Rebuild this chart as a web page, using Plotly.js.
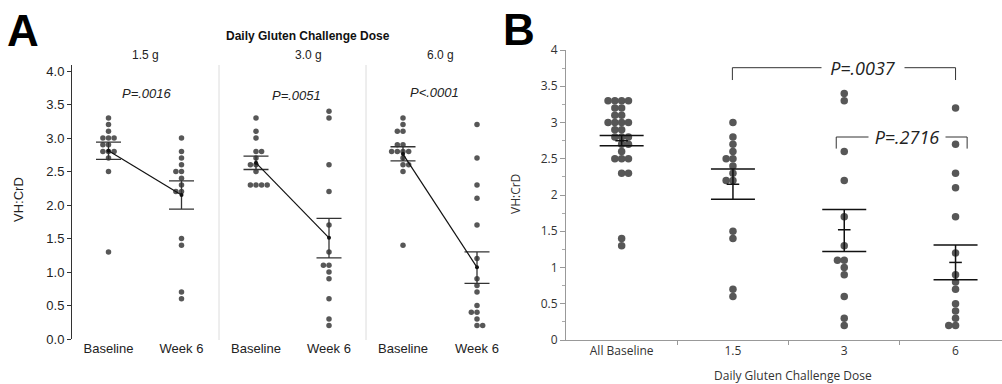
<!DOCTYPE html>
<html><head><meta charset="utf-8">
<script src="https://cdn.plot.ly/plotly-3.0.1.min.js"></script>
<style>html,body{margin:0;padding:0;background:#fff}</style>
</head><body><div id="chart" style="width:1002px;height:384px"></div>
<script>
// ---------- Panel A data ----------
const doseLabelsA = ['1.5 g', '3.0 g', '6.0 g'];
const pValuesA = ['P=.0016', 'P=.0051', 'P<.0001'];
const timeLabels = ['Baseline', 'Week 6'];
const baseline15 = [3.3, 3.2, 3.1, 3.0, 3.0, 3.0, 2.9, 2.9, 2.8, 2.8, 2.8, 2.7, 2.5, 1.3];
const week6_15   = [3.0, 2.8, 2.7, 2.6, 2.5, 2.5, 2.4, 2.3, 2.2, 2.2, 1.5, 1.4, 0.7, 0.6];
const baseline30 = [3.3, 3.1, 3.0, 2.8, 2.8, 2.7, 2.6, 2.6, 2.5, 2.3, 2.3, 2.3, 2.3];
const week6_30   = [3.4, 3.3, 2.6, 2.2, 1.7, 1.3, 1.1, 1.1, 1.0, 0.9, 0.6, 0.3, 0.2];
const baseline60 = [3.3, 3.2, 3.1, 3.1, 2.9, 2.9, 2.8, 2.8, 2.8, 2.8, 2.7, 2.6, 2.6, 2.5, 1.4];
const week6_60   = [3.2, 2.7, 2.3, 2.1, 1.7, 1.2, 0.9, 0.8, 0.7, 0.5, 0.4, 0.4, 0.3, 0.2, 0.2];
const meanBaseA  = [2.81, 2.63, 2.76];
const semHiBaseA = [2.94, 2.73, 2.87];
const semLoBaseA = [2.68, 2.53, 2.66];
const meanWk6A   = [2.15, 1.51, 1.07];
const semHiWk6A  = [2.36, 1.80, 1.30];
const semLoWk6A  = [1.94, 1.21, 0.83];
const yTicksA = [0, 0.5, 1, 1.5, 2, 2.5, 3, 3.5, 4];

// ---------- Panel B data ----------
const groupLabelsB = ['All Baseline', '1.5', '3', '6'];
const allBaseline = [3.3, 3.3, 3.3, 3.3, 3.2, 3.2, 3.1, 3.1, 3.0, 3.0, 3.0, 3.0, 2.9, 2.9, 2.8, 2.8, 2.8, 2.7, 2.7, 2.6, 2.5, 2.5, 2.5, 2.3, 2.3, 1.4, 1.3];
const dose15 = [3.0, 2.8, 2.7, 2.6, 2.5, 2.5, 2.4, 2.3, 2.2, 2.2, 1.5, 1.4, 0.7, 0.6];
const dose30 = [3.4, 3.3, 2.6, 2.2, 1.7, 1.3, 1.1, 1.1, 1.0, 0.9, 0.6, 0.3, 0.2];
const dose60 = [3.2, 2.7, 2.3, 2.1, 1.7, 1.2, 0.9, 0.8, 0.7, 0.5, 0.4, 0.3, 0.2, 0.2];
const meanB  = [2.75, 2.15, 1.52, 1.07];
const semHiB = [2.82, 2.36, 1.80, 1.31];
const semLoB = [2.68, 1.94, 1.22, 0.83];
const comparisonsB = [
  {from: 1, to: 3, label: 'P=.0037'},
  {from: 2, to: 3, label: 'P=.2716'}
];

// ---------- helpers ----------
const W = 1002, H = 384;
const px = v => v / W;
const py = v => 1 - v / H;

function swarm(vals, dPx, pxPerX, pxPerY) {
  const placed = [];
  const out = new Array(vals.length);
  const order = vals.map((v, i) => i).sort((a, b) => vals[b] - vals[a]);
  let flip = 1;
  for (const i of order) {
    const y = vals[i] * pxPerY;
    const iv = [];
    for (const p of placed) {
      const dy = Math.abs(p.y - y);
      if (dy < dPx) { const w = Math.sqrt(dPx * dPx - dy * dy); iv.push([p.x - w, p.x + w]); }
    }
    const cands = [0];
    iv.forEach(a => cands.push(a[0], a[1]));
    cands.sort((a, b) => (Math.abs(a) - Math.abs(b)) || (flip * (b - a)));
    let x = 0;
    for (const c of cands) {
      if (iv.every(a => c <= a[0] + 1e-9 || c >= a[1] - 1e-9)) { x = c; break; }
    }
    flip = -flip;
    placed.push({x, y});
    out[i] = x / pxPerX;
  }
  return out;
}

const traces = [];
const groupsA = [[baseline15, week6_15], [baseline30, week6_30], [baseline60, week6_60]];
const xNames = ['x', 'x2', 'x3'];
const dotColor = '#575757';

groupsA.forEach((g, k) => {
  g.forEach((vals, j) => {
    const off = swarm(vals, 5.6, 73, 67);
    traces.push({
      type: 'scatter', mode: 'markers', xaxis: xNames[k], yaxis: 'y',
      x: vals.map((v, i) => j + off[i]), y: vals,
      marker: {size: 5.5, color: dotColor}, hoverinfo: 'y'
    });
  });
  traces.push({
    type: 'scatter', mode: 'lines+markers', xaxis: xNames[k], yaxis: 'y',
    x: [0, 1], y: [meanBaseA[k], meanWk6A[k]],
    line: {color: '#111', width: 1.2},
    marker: {size: 4, color: '#111'},
    error_y: {
      type: 'data', symmetric: false,
      array: [semHiBaseA[k] - meanBaseA[k], semHiWk6A[k] - meanWk6A[k]],
      arrayminus: [meanBaseA[k] - semLoBaseA[k], meanWk6A[k] - semLoWk6A[k]],
      width: 12.5, thickness: 1.3, color: '#333'
    }
  });
});

const groupsB = [allBaseline, dose15, dose30, dose60];
groupsB.forEach((vals, j) => {
  const off = swarm(vals, 6.8, 111.3, 72.5);
  traces.push({
    type: 'scatter', mode: 'markers', xaxis: 'x4', yaxis: 'y2',
    x: vals.map((v, i) => j + off[i]), y: vals,
    marker: {size: 7.5, color: dotColor}, hoverinfo: 'y'
  });
});
traces.push({
  type: 'scatter', mode: 'markers', xaxis: 'x4', yaxis: 'y2',
  x: groupLabelsB.map((s, i) => i), y: meanB,
  marker: {symbol: 'line-ew', size: 9, color: '#111', line: {width: 1.5, color: '#111'}},
  error_y: {
    type: 'data', symmetric: false,
    array: semHiB.map((v, i) => v - meanB[i]),
    arrayminus: semLoB.map((v, i) => meanB[i] - v),
    width: 22, thickness: 1.5, color: '#111'
  }
});

const fontA = 'Liberation Sans, Arial, sans-serif';
const fontB = 'Open Sans, Noto Sans, sans-serif';

function xA(domPx) {
  return {
    domain: [px(domPx[0]), px(domPx[1])], range: [-0.5, 1.5], anchor: 'y',
    tickmode: 'array', tickvals: [0, 1], ticktext: timeLabels,
    showline: false, zeroline: false, showgrid: false, ticks: '',
    tickfont: {family: fontA, size: 13, color: '#222'}, fixedrange: true
  };
}

function note(text, xPx, yPx, font, extra) {
  return Object.assign({text, x: px(xPx), y: py(yPx), xref: 'paper', yref: 'paper',
    xanchor: 'center', yanchor: 'middle', showarrow: false, font}, extra || {});
}

const layout = {
  width: W, height: H, margin: {l: 0, r: 0, t: 0, b: 0},
  paper_bgcolor: '#fff', plot_bgcolor: 'rgba(0,0,0,0)', showlegend: false,
  xaxis: xA([72, 218]),
  xaxis2: xA([219.5, 365.5]),
  xaxis3: xA([366, 514]),
  yaxis: {
    domain: [py(339), py(65)], range: [0, 4.09], anchor: 'x',
    tickmode: 'array', tickvals: yTicksA, tickformat: '.1f',
    ticks: 'outside', ticklen: 4, tickcolor: '#333', showline: true, linecolor: '#333', linewidth: 1,
    zeroline: false, showgrid: false,
    tickfont: {family: fontA, size: 13, color: '#222'}
  },
  xaxis4: {
    domain: [px(566), 1], range: [-0.5, -0.5 + (1002 - 566) / 111.3], anchor: 'y2',
    tickmode: 'array', tickvals: [0, 1, 2, 3], ticktext: groupLabelsB, ticks: '',
    minor: {tickmode: 'array', tickvals: [0.5, 1.5, 2.5], ticks: 'outside', ticklen: 4, tickcolor: '#999', showgrid: false},
    showline: true, linecolor: '#999', linewidth: 1, zeroline: false, showgrid: false,
    tickfont: {family: fontB, size: 12, color: '#333'}
  },
  yaxis2: {
    domain: [py(340), py(49.5)], range: [0, 4.007], anchor: 'x4',
    tickmode: 'array', tickvals: yTicksA, ticks: 'outside', ticklen: 5, tickcolor: '#999',
    minor: {dtick: 0.25, ticks: 'outside', ticklen: 3, tickcolor: '#aaa', showgrid: false},
    showline: true, linecolor: '#999', linewidth: 1, zeroline: false, showgrid: false,
    tickfont: {family: fontB, size: 12, color: '#333'}
  },
  shapes: [
    {type: 'line', xref: 'paper', yref: 'paper', x0: px(219), x1: px(219), y0: py(65), y1: py(340), line: {color: '#dcdcdc', width: 1}},
    {type: 'line', xref: 'paper', yref: 'paper', x0: px(366), x1: px(366), y0: py(65), y1: py(340), line: {color: '#dcdcdc', width: 1}}
  ],
  annotations: [
    note('<b>A</b>', 22.5, 30, {family: fontA, size: 44, color: '#000'}),
    note('<b>B</b>', 518.5, 29, {family: fontA, size: 44, color: '#000'}),
    note('<b>Daily Gluten Challenge Dose</b>', 308, 36, {family: fontA, size: 12, color: '#111'}),
    note('VH:CrD', 18, 200, {family: fontA, size: 13, color: '#222'}, {textangle: -90}),
    note('VH:CrD', 515, 194, {family: fontB, size: 12, color: '#333'}, {textangle: -90}),
    note('Daily Gluten Challenge Dose', 793, 375, {family: fontB, size: 12, color: '#333'})
  ]
};

const doseX = [145, 308, 440];
const pX = [147, 296, 434];
const pY = [94, 95, 92];
doseLabelsA.forEach((t, k) => {
  layout.annotations.push(note(t, doseX[k], 55, {family: fontA, size: 12, color: '#222'}));
  layout.annotations.push(note('<i>' + pValuesA[k] + '</i>', pX[k], pY[k], {family: fontA, size: 13, color: '#222'}));
});

// Panel B comparison brackets
const bracketGeom = [
  {xl: -0.005, xr: 0, yTop: 3.756, yBot: 3.586, tx: 863, pad: 8},
  {xl: -0.072, xr: 0.104, yTop: 2.80, yBot: 2.64, tx: 906.7, pad: 5}
];
comparisonsB.forEach((c, i) => {
  const g = bracketGeom[i];
  const x0 = c.from + g.xl, x1 = c.to + g.xr;
  layout.shapes.push({type: 'path', xref: 'x4', yref: 'y2',
    path: `M${x0},${g.yBot} L${x0},${g.yTop} L${x1},${g.yTop} L${x1},${g.yBot}`,
    line: {color: '#333', width: 1}});
  layout.annotations.push({text: '<i>' + c.label + '</i>', x: px(g.tx), xref: 'paper', y: g.yTop, yref: 'y2',
    showarrow: false, bgcolor: '#fff', borderpad: 0, xanchor: 'center', yanchor: 'middle',
    font: {family: fontB, size: 18, color: '#222'}, width: 66 + 2 * g.pad});
});

Plotly.newPlot('chart', traces, layout, {displayModeBar: false, staticPlot: true});
</script>
</body></html>
